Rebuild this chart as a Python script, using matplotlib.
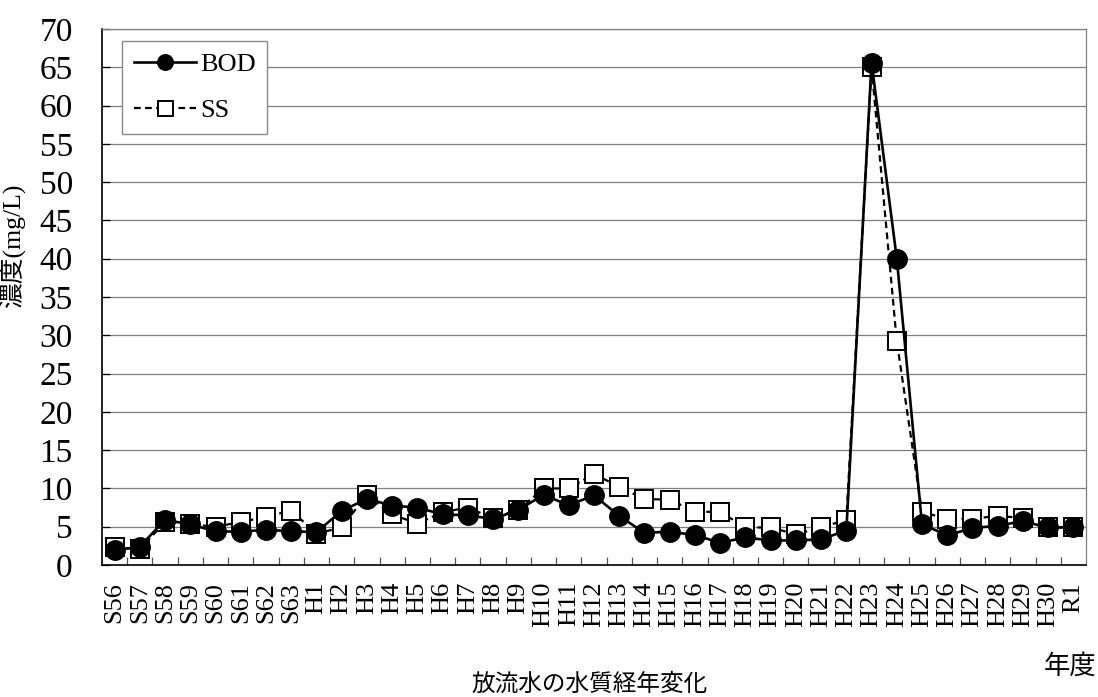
import matplotlib
matplotlib.use("Agg")
import matplotlib.pyplot as plt
from matplotlib.ticker import FixedLocator, NullFormatter

plt.rcParams['font.family'] = ['Liberation Serif', 'Noto Sans CJK JP']

# 年度ラベル
years = (["S56", "S57", "S58", "S59", "S60", "S61", "S62", "S63"]
         + [f"H{i}" for i in range(1, 31)] + ["R1"])

# 放流水の濃度 (mg/L)
bod = [1.9, 2.4, 5.9, 5.3, 4.4, 4.35, 4.6, 4.4,
       4.3, 7.05, 8.65, 7.75, 7.5, 6.6, 6.5, 6.0, 7.2, 9.15,
       7.8, 9.1, 6.4, 4.2, 4.35, 3.9, 2.9, 3.6, 3.2, 3.2,
       3.35, 4.5, 65.6, 40.0, 5.3, 3.9, 4.8, 5.15, 5.7, 4.9,
       4.9]
ss = [2.3, 2.1, 5.6, 5.3, 5.0, 5.6, 6.3, 7.1,
      4.1, 4.9, 9.2, 6.6, 5.4, 6.9, 7.5, 6.1, 7.2, 10.0,
      10.0, 11.9, 10.2, 8.6, 8.55, 6.95, 6.95, 4.9, 4.9, 4.0,
      4.9, 5.9, 65.0, 29.2, 6.9, 6.05, 6.05, 6.4, 6.15, 4.9,
      5.0]

yticks = list(range(0, 75, 5))

fig = plt.figure(figsize=(10.98, 6.97), dpi=100)
ax = fig.add_axes([0.0929, 0.1894, 0.8962, 0.769])

x = list(range(len(years)))

l_ss, = ax.plot(x, ss, color='black', linestyle=(0, (3, 2)), linewidth=1.6,
                marker='s', markersize=13.5, markerfacecolor='white',
                markeredgecolor='black', markeredgewidth=1.4, label='SS', zorder=3)
l_bod, = ax.plot(x, bod, color='black', linestyle='-', linewidth=1.9,
                 marker='o', markersize=14, markerfacecolor='black',
                 markeredgecolor='black', label='BOD', zorder=4)

ax.set_xlim(-0.5, len(years) - 0.5)
ax.set_ylim(0, 70)

ax.set_yticks(yticks)
ax.yaxis.grid(True, color='#7f7f7f', linewidth=0.9)
ax.set_axisbelow(True)
ax.tick_params(axis='y', direction='in', length=6, width=0.9, labelsize=24,
               pad=21, colors='black')

ax.set_xticks(x)
ax.set_xticklabels(years, rotation=90, fontsize=19)
ax.tick_params(axis='x', which='major', length=0, pad=12)
ax.xaxis.set_minor_locator(FixedLocator([i - 0.5 for i in range(1, len(years))]))
ax.xaxis.set_minor_formatter(NullFormatter())
ax.tick_params(axis='x', which='minor', direction='in', length=6, width=0.9,
               color='#555555')

for side in ('top', 'right'):
    ax.spines[side].set_color('#7f7f7f')
    ax.spines[side].set_linewidth(0.9)
for side in ('left', 'bottom'):
    ax.spines[side].set_color('black')
    ax.spines[side].set_linewidth(1.2)

ax.set_ylabel('濃度(mg/L)', fontsize=18.5, labelpad=0)
ax.yaxis.set_label_coords(-0.077, 0.597)

leg = ax.legend(handles=[l_bod, l_ss], loc='upper left',
                bbox_to_anchor=(0.0203, 0.9776), borderaxespad=0,
                fontsize=19, frameon=True, fancybox=False, framealpha=1,
                edgecolor='#8a8a8a', handlelength=2.35, handletextpad=0.15,
                borderpad=0.45, labelspacing=0.85, markerscale=0.8)
leg.get_frame().set_linewidth(1.0)

fig.text(0.9745, 0.0445, '年度', fontsize=19, ha='center', va='center')
fig.text(0.537, 0.002, '放流水の水質経年変化', fontsize=17, ha='center', va='bottom')

fig.savefig('out.png', dpi=100)
